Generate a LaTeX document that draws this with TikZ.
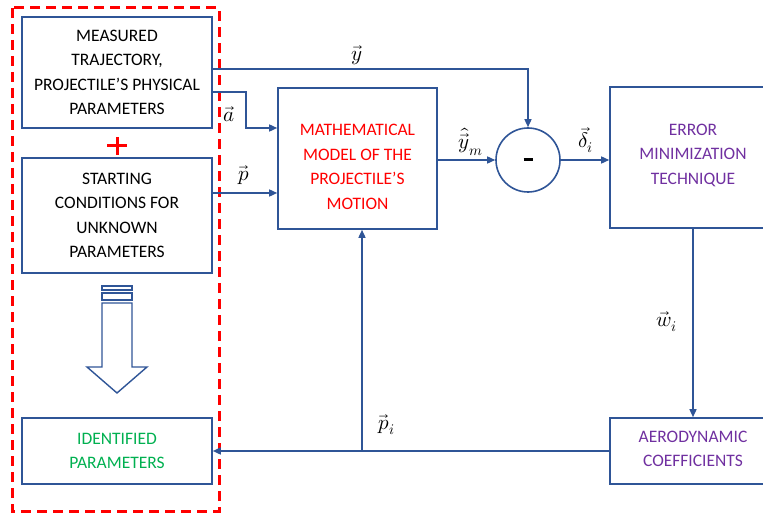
\documentclass[tikz,border=0pt]{standalone}
\usepackage{fontspec}
\usepackage{unicode-math}
\setmainfont{Carlito}
\setmathfont{Latin Modern Math}
\usetikzlibrary{arrows.meta,calc}
\definecolor{bl}{HTML}{2F5597}
\definecolor{rd}{HTML}{FF0000}
\definecolor{gr}{HTML}{00B050}
\definecolor{pu}{HTML}{7030A0}
\tikzset{
  boxs/.style={draw=bl, line width=1.6pt, rectangle, align=center, inner sep=0pt,
    font=\fontsize{17.5}{24.5}\selectfont},
  conn/.style={draw=bl, line width=1.5pt, -{Triangle[length=8pt,width=7pt]}},
  lbl/.style={font=\fontsize{21}{24}\selectfont, inner sep=0pt},
  txt/.style={align=center, inner sep=0pt, font=\fontsize{17.5}{24.5}\selectfont}
}
\begin{document}
\begin{tikzpicture}[x=1pt,y=-1pt]
\useasboundingbox (0,0) rectangle (763,513);
\clip (0,0) rectangle (763,513);
% boxes
\node[boxs, minimum width=190pt, minimum height=111pt] (box1) at (117,72.5)
  {MEASURED\\TRAJECTORY,\\PROJECTILE’S PHYSICAL\\PARAMETERS};
\node[boxs, minimum width=190pt, minimum height=115pt] (box2) at (117,215.5)
  {STARTING\\CONDITIONS FOR\\UNKNOWN\\PARAMETERS};
\node[boxs, minimum width=190pt, minimum height=66pt, text=gr] (box3) at (117,451)
  {IDENTIFIED\\PARAMETERS};
\node[boxs, minimum width=159pt, minimum height=141pt] (math) at (357.5,158.5) {};
\node[txt, text=rd] (mathtxt) at (357.5,167) {MATHEMATICAL\\MODEL OF THE\\PROJECTILE’S\\MOTION};
\node[draw=bl, line width=1.6pt, circle, minimum size=64pt, inner sep=0pt] (circ) at (528,160) {};
\draw[black, line width=3pt] ($(circ.center)+(-4.5,0)$) -- ($(circ.center)+(4.5,0)$);
\node[boxs, minimum width=166pt, minimum height=141pt] (err) at (693,157.5) {};
\node[txt, text=pu] (errtxt) at (693,155) {ERROR\\MINIMIZATION\\TECHNIQUE};
\node[boxs, minimum width=166pt, minimum height=66pt] (aero) at (693,451) {};
\node[txt, text=pu] (aerotxt) at (693,449) {AERODYNAMIC\\COEFFICIENTS};
% red dashed frame
\draw[rd, line width=3pt, dash pattern=on 10pt off 6pt] (12,8) rectangle (219,511);
% plus
\draw[rd, line width=3pt] (107,146) -- (127,146) (117,137) -- (117,155);
% hollow arrow
\draw[bl, line width=1.4pt] (102,286) rectangle (132,290);
\draw[bl, line width=1.4pt] (102,293) rectangle (132,300);
\draw[bl, line width=1.4pt, line join=miter] (102,303) -- (132,303) -- (132,367) -- (147,367)
  -- (117,393) -- (87,367) -- (102,367) -- cycle;
% coordinates
\coordinate (yy) at (0,69);
\coordinate (aa) at (0,92);
\coordinate (abend) at (246,128);
\coordinate (pp) at (0,193);
\coordinate (fb) at (362,451);
% connectors
\draw[conn] (box1.east |- yy) -| (circ.north);
\draw[conn] (box1.east |- aa) -| (abend) -- (math.west |- abend);
\draw[conn] (box2.east |- pp) -- (math.west |- pp);
\draw[conn] (math.east |- circ.west) -- (circ.west);
\draw[conn] (circ.east) -- (err.west |- circ.east);
\draw[conn] (err.south) -- (aero.north);
\draw[conn] (aero.west) -- (box3.east);
\draw[conn] (fb) -- (math.south -| fb);
% labels
\node[lbl] (ly) at (357,55) {$\vec{y}$};
\node[lbl] (la) at (229,114) {$\vec{a}$};
\node[lbl] (lp) at (244,175) {$\vec{p}$};
\node[lbl] (lym) at (471,142) {$\hat{\vec{y}}_m$};
\node[lbl] (ld) at (586,140) {$\vec{\delta}_i$};
\node[lbl] (lw) at (667,322) {$\vec{w}_i$};
\node[lbl] (lpi) at (387,425) {$\vec{p}_i$};
\end{tikzpicture}
\end{document}
